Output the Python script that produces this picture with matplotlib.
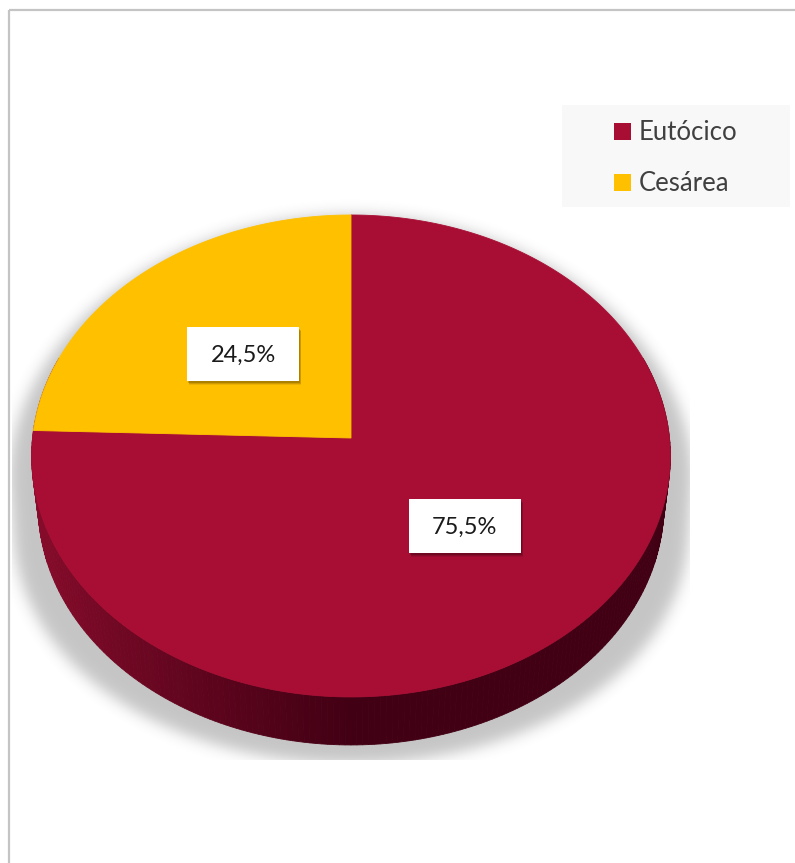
import numpy as np
import matplotlib
matplotlib.use("Agg")
import matplotlib.pyplot as plt
from matplotlib.patches import Polygon, Rectangle
from matplotlib.path import Path

# ---- data ----
categories = ["Eutócico", "Cesárea"]
shares = [75.5, 24.5]
colors = ["#A80E34", "#FFC000"]

W, H = 795, 863
fig = plt.figure(figsize=(W / 100, H / 100), dpi=100)
ax = fig.add_axes([0, 0, 1, 1])
ax.set_xlim(0, W)
ax.set_ylim(H, 0)
ax.axis("off")

# ---- perspective camera for the tilted disc ----
CX, CY = 351, 438
PHI = np.arcsin(0.7525)
DIST = 8.83
FOC = 2812
THICK = 0.242


def project(x, y, z=0.0):
    depth = DIST + y * np.cos(PHI) - z * np.sin(PHI)
    up = y * np.sin(PHI) + z * np.cos(PHI)
    return CX + FOC * x / depth, CY - FOC * up / depth


def rim(t_deg, z=0.0):
    t = np.radians(t_deg)
    return project(np.cos(t), np.sin(t), z)


def convex_hull(pts):
    pts = sorted(set(map(tuple, pts)))
    def cross(o, a, b):
        return (a[0] - o[0]) * (b[1] - o[1]) - (a[1] - o[1]) * (b[0] - o[0])
    lower, upper = [], []
    for p in pts:
        while len(lower) >= 2 and cross(lower[-2], lower[-1], p) <= 0:
            lower.pop()
        lower.append(p)
    for p in reversed(pts):
        while len(upper) >= 2 and cross(upper[-2], upper[-1], p) <= 0:
            upper.pop()
        upper.append(p)
    return np.array(lower[:-1] + upper[:-1])


# ---- soft shadow under the pie ----
ang = np.linspace(0, 360, 721)
tx, ty = rim(ang)
bx, by = rim(ang, -THICK)
hull = convex_hull(np.column_stack([np.r_[tx, bx], np.r_[ty, by]]))
top_y = ty.min()
span = by.max() - top_y
grow = 1.012 + 0.12 * (hull[:, 1] - top_y) / span
sh = np.column_stack([CX + (hull[:, 0] - CX) * grow,
                      top_y + (hull[:, 1] - top_y) * 1.035])
gx, gy = np.meshgrid(np.arange(W) + 0.5, np.arange(H) + 0.5)
mask = Path(sh).contains_points(np.column_stack([gx.ravel(), gy.ravel()]))
mask = mask.reshape(H, W).astype(float)
sig = 7.0
fy = np.fft.fftfreq(H)[:, None]
fx = np.fft.fftfreq(W)[None, :]
kern = np.exp(-2 * (np.pi * sig) ** 2 * (fx ** 2 + fy ** 2))
blur = np.real(np.fft.ifft2(np.fft.fft2(mask) * kern))
blur = np.clip(blur, 0, 1)
blur[:, :12] = 0
blur[:, 690:] = 0
blur[760:, :] = 0
shadow = np.zeros((H, W, 4))
shadow[..., :3] = 0.25
shadow[..., 3] = 0.30 * blur
ax.imshow(shadow, extent=(0, W, H, 0), interpolation="bilinear", zorder=1)

# ---- side wall, drawn back to front with a left-to-right shading ----
side_light = np.array([138, 12, 44]) / 255
side_dark = np.array([66, 0, 20]) / 255
seg = np.linspace(160, 380, 221)
mids = (seg[:-1] + seg[1:]) / 2
order = np.argsort(-np.sin(np.radians(mids)))
x_left, x_right = tx.min(), tx.max()
for i in order:
    a0, a1 = seg[i], seg[i + 1]
    p0 = rim(a0); p1 = rim(a1)
    q0 = rim(a0, -THICK); q1 = rim(a1, -THICK)
    xm = (p0[0] + p1[0]) / 2
    t = np.clip((xm - x_left) / (CX - x_left), 0, 1) ** 0.8
    c = side_light * (1 - t) + side_dark * t
    ax.add_patch(Polygon([p0, p1, q1, q0], closed=True, facecolor=c,
                         edgecolor=c, linewidth=0.6, zorder=2))

# ---- top face slices (clockwise from 12 o'clock) ----
start = 90.0
mid_angles = []
for val, col in zip(shares, colors):
    end = start - 360.0 * val / 100.0
    a = np.linspace(end, start, 300)
    px, py = rim(a)
    verts = np.column_stack([np.r_[CX, px], np.r_[CY, py]])
    ax.add_patch(Polygon(verts, closed=True, facecolor=col, edgecolor=col,
                         linewidth=0.6, zorder=3))
    mid_angles.append((start + end) / 2)
    start = end

# ---- value labels in white boxes ----
box_w, box_h = 112, 54
for val, mid in zip(shares, mid_angles):
    t = np.radians(mid)
    lx, ly = project(0.5 * np.cos(t), 0.5 * np.sin(t))
    for k, al in ((4, 0.08), (3, 0.12), (2, 0.16)):
        ax.add_patch(Rectangle((lx - box_w / 2 + k * 0.6, ly - box_h / 2 + k),
                               box_w, box_h, facecolor="black", alpha=al,
                               linewidth=0, zorder=4))
    ax.add_patch(Rectangle((lx - box_w / 2, ly - box_h / 2), box_w, box_h,
                           facecolor="white", linewidth=0, zorder=5))
    ax.text(lx, ly + 1, f"{val:.1f}".replace(".", ",") + "%",
            ha="center", va="center", fontsize=17, family="Lato",
            color="#1A1A1A", zorder=6)

# ---- legend ----
ax.add_patch(Rectangle((562, 105), 228, 102, facecolor="#F8F8F8",
                       linewidth=0, zorder=4))
for i, (name, col) in enumerate(zip(categories, colors)):
    yc = 131.5 + i * 51
    ax.add_patch(Rectangle((614, yc - 8.5), 17, 17, facecolor=col,
                           linewidth=0, zorder=5))
    ax.text(639, yc + 1, name, ha="left", va="center", fontsize=18.5,
            family="Lato", color="#404040", zorder=5)

# ---- frame ----
ax.plot([8.5, 8.5], [H, 10], color="#C4C4C4", lw=1.6, zorder=7,
        solid_capstyle="butt")
ax.plot([8.5, W], [10, 10], color="#C4C4C4", lw=1.6, zorder=7,
        solid_capstyle="butt")

fig.savefig("out.png", dpi=100)
